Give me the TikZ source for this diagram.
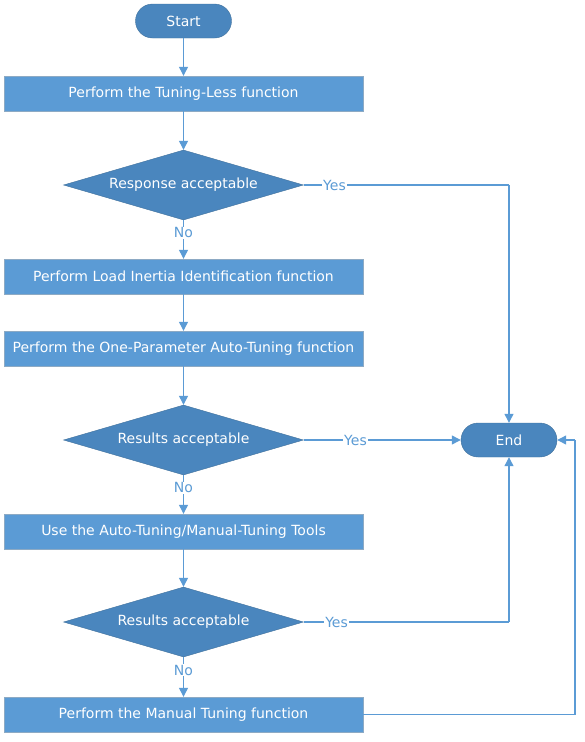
\documentclass[tikz,border=0pt]{standalone}
\usepackage{fontspec}
\setmainfont{DejaVu Sans}
\usetikzlibrary{shapes.geometric,arrows.meta}
\definecolor{boxblue}{HTML}{5B9BD5}
\definecolor{darkblue}{HTML}{4A86BE}
\definecolor{edgeblue}{HTML}{41719C}
\tikzset{
  flow/.style={draw=boxblue, line width=1.2pt, -{Triangle[width=9pt,length=9pt]}},
  plain/.style={draw=boxblue, line width=1.2pt},
  stepbox/.style={rectangle, draw=edgeblue!60, fill=boxblue, text=white, minimum width=359pt, minimum height=35pt, inner sep=0pt, font=\fontsize{14}{16}\selectfont},
  decide/.style={diamond, shape aspect=3.43, draw=edgeblue, fill=darkblue, text=white, minimum width=240pt, minimum height=70pt, inner sep=0pt, font=\fontsize{14}{16}\selectfont},
  term/.style={rectangle, rounded corners=17pt, draw=edgeblue, fill=darkblue, text=white, minimum width=96pt, minimum height=34pt, inner sep=0pt, font=\fontsize{14}{16}\selectfont},
  lbl/.style={fill=white, text=boxblue, inner sep=1pt, font=\fontsize{14}{16}\selectfont}
}
\begin{document}
\begin{tikzpicture}[x=1pt, y=-1pt]
\useasboundingbox (0,0) rectangle (585,742);
\node[term] (nid0) at (183.5,21){Start};
\node[stepbox] (nid1) at (183.5,93.5){Perform the Tuning-Less function};
\node[decide] (nid2) at (183.5,185){Response acceptable};
\node[stepbox] (nid3) at (183.5,276.5){Perform Load Inertia Identification function};
\node[stepbox] (nid4) at (183.5,348.5){Perform the One-Parameter Auto-Tuning function};
\node[decide] (nid5) at (183.5,440){Results acceptable};
\node[stepbox] (nid6) at (183.5,531.5){Use the Auto-Tuning/Manual-Tuning Tools};
\node[decide] (nid7) at (183.5,622){Results acceptable};
\node[stepbox] (nid8) at (183.5,714.5){Perform the Manual Tuning function};
\node[term] (nid9) at (509,440){End};
\coordinate (c1) at (509,185);
\coordinate (c2) at (509,622);
\coordinate (c3) at (575,714.5);
\coordinate (c4) at (575,440);
\draw[flow] (nid0) -- (nid1);
\draw[flow] (nid1) -- (nid2);
\draw[flow] (nid2) -- node[lbl, pos=0.33]{No} (nid3);
\draw[flow] (nid3) -- (nid4);
\draw[flow] (nid4) -- (nid5);
\draw[flow] (nid5) -- node[lbl, pos=0.33]{No} (nid6);
\draw[flow] (nid6) -- (nid7);
\draw[flow] (nid7) -- node[lbl, pos=0.33]{No} (nid8);
\draw[plain] (nid2.east) -- node[lbl, pos=0.15]{Yes} (c1);
\draw[flow] (c1) -- (nid9.north);
\draw[flow] (nid5.east) -- node[lbl, pos=0.33]{Yes} (nid9.west);
\draw[plain] (nid7.east) -- node[lbl, pos=0.16]{Yes} (c2);
\draw[flow] (c2) -- (nid9.south);
\draw[plain] (nid8.east) -- (c3) -- (c4);
\draw[flow] (c4) -- (nid9.east);
\end{tikzpicture}
\end{document}
